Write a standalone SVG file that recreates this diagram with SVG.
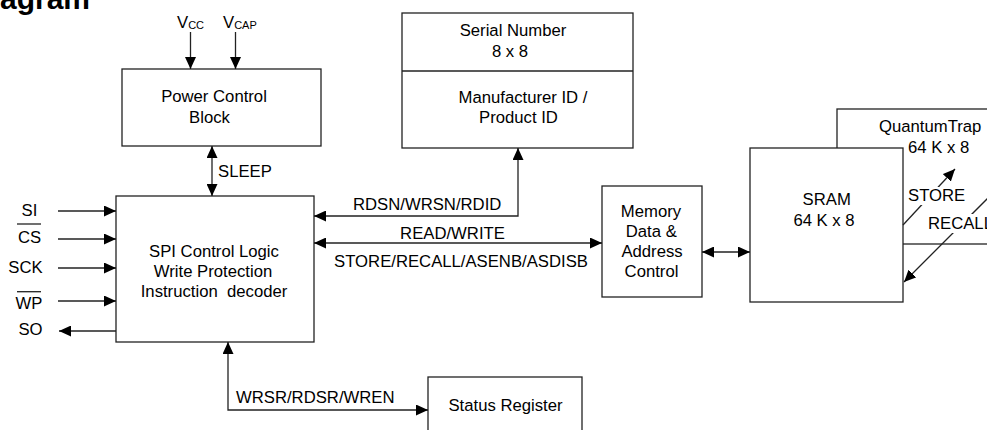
<svg xmlns="http://www.w3.org/2000/svg" width="987" height="430" viewBox="0 0 987 430">
<style>
  text { font-family: "Liberation Sans", Arial, sans-serif; font-size: 16.7px; fill: #000; }
  .c { text-anchor: middle; }
  .box { fill: #fff; stroke: #222; stroke-width: 1.3; }
  .ln { fill: none; stroke: #222; stroke-width: 1.3; }
  .sub { font-size: 11px; }
  .title { font-weight: bold; font-size: 30px; }
</style>
<defs>
  <marker id="ah" markerUnits="userSpaceOnUse" markerWidth="12" markerHeight="11" refX="12" refY="5.5" orient="auto-start-reverse">
    <path d="M0,0 L12,5.5 L0,11 z" fill="#000"/>
  </marker>
</defs>
<rect width="987" height="430" fill="#fff"/>
<text class="title" x="0" y="9">agram</text>

<g id="power">
  <rect class="box" x="122" y="69" width="199" height="77"/>
  <text x="214" y="102" class="c">Power Control</text>
  <text x="209.5" y="123" class="c">Block</text>
</g>
<g id="spi">
  <rect class="box" x="116" y="196" width="198" height="146"/>
  <text x="214" y="256.7" class="c">SPI Control Logic</text>
  <text x="213" y="276.7" class="c">Write Protection</text>
  <text x="214" y="296.7" class="c" xml:space="preserve">Instruction  decoder</text>
</g>
<g id="serial">
  <rect class="box" x="402" y="13" width="231" height="135"/>
  <line class="ln" x1="402" y1="71" x2="633" y2="71"/>
  <text x="513" y="36" class="c">Serial Number</text>
  <text x="510" y="57" class="c">8 x 8</text>
  <text x="523" y="103" class="c">Manufacturer ID /</text>
  <text x="518.5" y="123" class="c">Product ID</text>
</g>
<g id="memctl">
  <rect class="box" x="602" y="186" width="100" height="111"/>
  <text x="651" y="217" class="c">Memory</text>
  <text x="651.3" y="237" class="c">Data &amp;</text>
  <text x="652" y="257" class="c">Address</text>
  <text x="651.5" y="277" class="c">Control</text>
</g>
<g id="quantumtrap">
  <rect class="box" x="837" y="109" width="200" height="135"/>
  <text x="879" y="132">QuantumTrap</text>
  <text x="908" y="153">64 K x 8</text>
</g>
<g id="sram">
  <rect class="box" x="750" y="148" width="153" height="154"/>
  <text x="826.7" y="205" class="c">SRAM</text>
  <text x="824" y="225.7" class="c">64 K x 8</text>
</g>
<g id="status">
  <rect class="box" x="428" y="377" width="154" height="60"/>
  <text x="505.5" y="411" class="c">Status Register</text>
</g>
<g id="pins">
  <text x="29.5" y="216" class="c">SI</text>
  <line class="ln" x1="17" y1="224" x2="41" y2="224"/>
  <text x="29.5" y="243" class="c">CS</text>
  <text x="25.5" y="272.7" class="c">SCK</text>
  <line class="ln" x1="17" y1="291.7" x2="41" y2="291.7"/>
  <text x="29" y="309" class="c">WP</text>
  <text x="30.5" y="335" class="c">SO</text>
  <text x="177" y="28" font-size="15">V<tspan class="sub" dy="1">CC</tspan></text>
  <text x="223" y="28" font-size="15">V<tspan class="sub" dy="1">CAP</tspan></text>
</g>
<g id="connectors">
  <line class="ln" x1="190.5" y1="32" x2="190.5" y2="69" marker-end="url(#ah)"/>
  <line class="ln" x1="235.5" y1="32" x2="235.5" y2="69" marker-end="url(#ah)"/>
  <line class="ln" x1="212" y1="146" x2="212" y2="196" marker-start="url(#ah)" marker-end="url(#ah)"/>
  <line class="ln" x1="58" y1="211" x2="116" y2="211" marker-end="url(#ah)"/>
  <line class="ln" x1="58" y1="239" x2="116" y2="239" marker-end="url(#ah)"/>
  <line class="ln" x1="58" y1="268" x2="116" y2="268" marker-end="url(#ah)"/>
  <line class="ln" x1="58" y1="301" x2="116" y2="301" marker-end="url(#ah)"/>
  <line class="ln" x1="116" y1="331" x2="59" y2="331" marker-end="url(#ah)"/>
  <path class="ln" d="M314,216 H518 V148" marker-start="url(#ah)" marker-end="url(#ah)"/>
  <line class="ln" x1="314" y1="243" x2="602" y2="243" marker-start="url(#ah)" marker-end="url(#ah)"/>
  <line class="ln" x1="702" y1="252" x2="750" y2="252" marker-start="url(#ah)" marker-end="url(#ah)"/>
  <path class="ln" d="M228,342 V410 H428" marker-start="url(#ah)" marker-end="url(#ah)"/>
  <line class="ln" x1="903" y1="225" x2="955" y2="169" marker-end="url(#ah)"/>
  <line class="ln" x1="990" y1="196" x2="904" y2="282" marker-end="url(#ah)"/>
  <text x="218" y="177">SLEEP</text>
  <text x="353" y="210">RDSN/WRSN/RDID</text>
  <text x="452.5" y="239" class="c">READ/WRITE</text>
  <text x="461" y="266.7" class="c">STORE/RECALL/ASENB/ASDISB</text>
  <text x="236" y="403">WRSR/RDSR/WREN</text>
  <rect x="906" y="187" width="62" height="18" fill="#fff"/>
  <text x="908" y="200.7">STORE</text>
  <rect x="926" y="214" width="65" height="19" fill="#fff"/>
  <text x="928" y="229">RECALL</text>
</g>
</svg>
